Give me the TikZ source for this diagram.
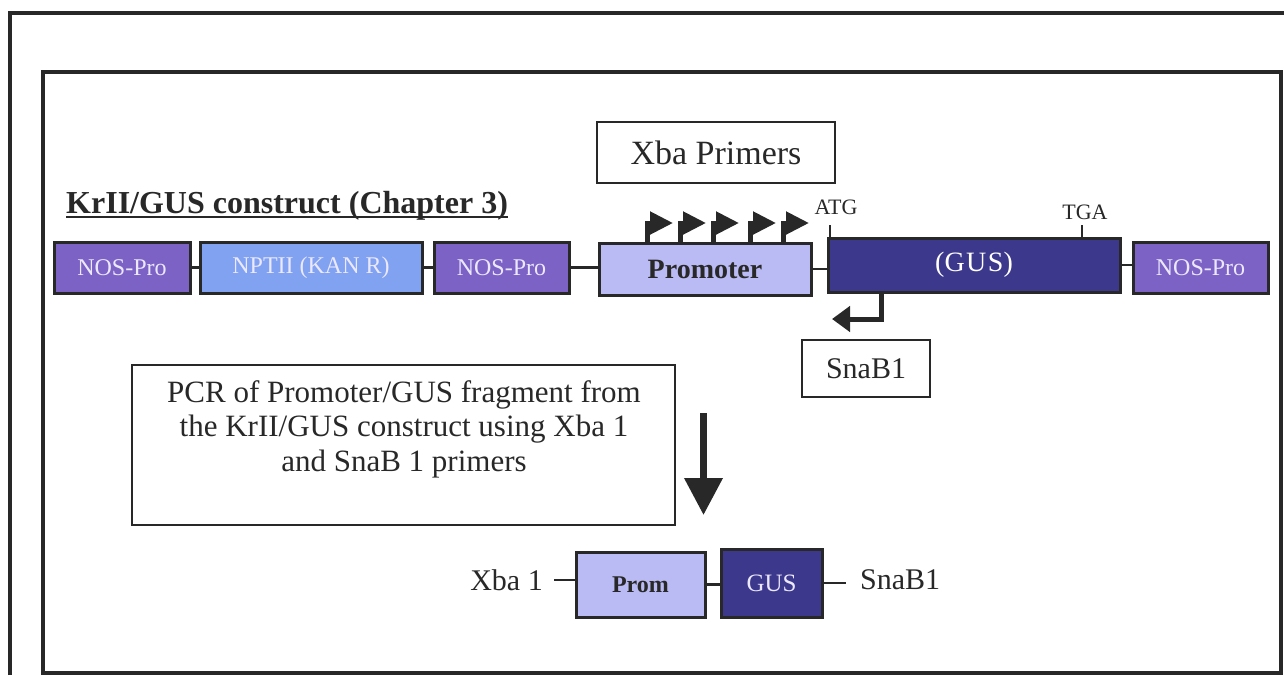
\documentclass[tikz,border=0pt]{standalone}
\usepackage{fontspec}
\setmainfont{Liberation Serif}
\usetikzlibrary{arrows.meta}
\definecolor{frame}{RGB}{40,40,40}
\definecolor{nos}{RGB}{124,98,196}
\definecolor{npt}{RGB}{128,162,240}
\definecolor{prm}{RGB}{186,186,245}
\definecolor{gus}{RGB}{60,56,140}
\definecolor{lighttxt}{RGB}{236,232,255}
\newcommand\fsz[2]{\fontsize{#1}{#2}\selectfont}
\tikzset{
  gene/.style={draw=frame, line width=3pt, inner sep=0pt, minimum height=51pt},
  plainbox/.style={draw=frame, line width=2.5pt, fill=white, inner sep=0pt},
  link/.style={draw=frame, line width=2.5pt},
  lbl/.style={inner sep=0pt, text=frame},
  flag/.style={draw=frame, line width=5pt, -{Triangle[width=22pt,length=23pt]}},
  tick/.style={draw=frame, line width=2pt}
}
\begin{document}
\begin{tikzpicture}[x=1pt,y=-1pt]
\fill[white] (0,0) rectangle (1284,675);
\useasboundingbox (0,0) rectangle (1284,675);
% frames
\draw[frame, line width=3.5pt] (10,675) -- (10,13) -- (1284,13);
\draw[frame, line width=4.5pt] (43,72) rectangle (1281,673);

% title
\node[lbl, anchor=base west, font=\bfseries\fsz{32}{36}] (title) at (66,213) {KrII/GUS construct (Chapter 3)};
\draw[frame, line width=2.2pt] ([yshift=-4pt]title.base west) -- ([yshift=-4pt]title.base east);

% primers box
\node[plainbox, minimum width=238pt, minimum height=61pt, font=\fsz{34}{40}, text=frame] (xba) at (716,152.5) {Xba Primers};

% gene row
\node[gene, fill=nos, minimum width=136pt, text=lighttxt, font=\fsz{24}{28}] (nos1) at (122,267.5) {NOS-Pro};
\node[gene, fill=npt, minimum width=222pt, text=lighttxt, font=\fsz{24}{28}] (npt) at (311,267.5) {NPTII (KAN R)};
\node[gene, fill=nos, minimum width=135pt, text=lighttxt, font=\fsz{24}{28}] (nos2) at (501.5,267.5) {NOS-Pro};
\node[gene, fill=prm, minimum width=212pt, minimum height=52pt, text=frame, font=\bfseries\fsz{28}{32}] (prom) at (705,269) {Promoter};
\node[gene, fill=gus, minimum width=292pt, minimum height=54pt, text=white, font=\fsz{28}{32}] (gus) at (974,265) {(G\kern1.5pt U\kern1.5pt S)};
\node[gene, fill=nos, minimum width=135pt, text=lighttxt, font=\fsz{24}{28}] (nos3) at (1200.5,268) {NOS-Pro};

\draw[link] (nos1.east) -- (npt.west);
\draw[link] (npt.east) -- (nos2.west);
\draw[link] (nos2.east) -- (nos2.east -| prom.west);
\draw[link] (prom.east) -- (prom.east -| gus.west);
\draw[link] (gus.east) -- (gus.east -| nos3.west);

% promoter flags
\foreach \x in {647,680,713,750,783}
  \draw[flag] (\x,0 |- prom.north) |- (\x+26,223);

% codons
\draw[tick] (830,225) -- (830,0 |- gus.north);
\node[lbl, font=\fsz{22}{26}] (atg) at (836,207) {ATG};
\draw[tick] (1082,225) -- (1082,0 |- gus.north);
\node[lbl, font=\fsz{22}{26}] (tga) at (1085,212) {TGA};

% SnaB1 primer
\coordinate (snabtip) at (832,319);
\draw[draw=frame, line width=5pt, -{Triangle[width=25pt,length=18pt]}] (881,0 |- gus.south) |- (snabtip);
\node[plainbox, minimum width=128pt, minimum height=57pt, font=\fsz{30}{36}, text=frame] (snab) at (866,368.5) {SnaB1};

% PCR step
\node[plainbox, minimum width=543pt, minimum height=160pt] (pcr) at (403.5,445) {};
\node[lbl, align=center, font=\fsz{31}{34.5}] (pcrtext) at (404,429) {PCR of Promoter/GUS fragment from\\the KrII/GUS construct using Xba 1\\and SnaB 1 primers};

\coordinate (arrtop) at (703.5,413);
\coordinate (arrbot) at (703.5,515);
\draw[draw=frame, line width=7pt, -{Triangle[width=37pt,length=37pt]}] (arrtop) -- (arrbot);

% product
\node[gene, fill=prm, minimum width=129pt, minimum height=65pt, text=frame, font=\bfseries\fsz{24}{28}] (promS) at (640.5,584.5) {Prom};
\node[gene, fill=gus, minimum width=101pt, minimum height=68pt, text=lighttxt, font=\fsz{25}{30}] (gusS) at (771.5,583) {GUS};
\node[lbl, inner xsep=11pt, anchor=east, font=\fsz{30}{36}] (xba1) at (554,580) {Xba 1};
\node[lbl, inner xsep=14pt, anchor=west, font=\fsz{30}{36}] (snab1) at (846,580) {SnaB1};

\draw[link] (xba1.east) -- (xba1.east -| promS.west);
\draw[link] (promS.east) -- (promS.east -| gusS.west);
\draw[link] (gusS.east) -- (gusS.east -| snab1.west);
\end{tikzpicture}
\end{document}
